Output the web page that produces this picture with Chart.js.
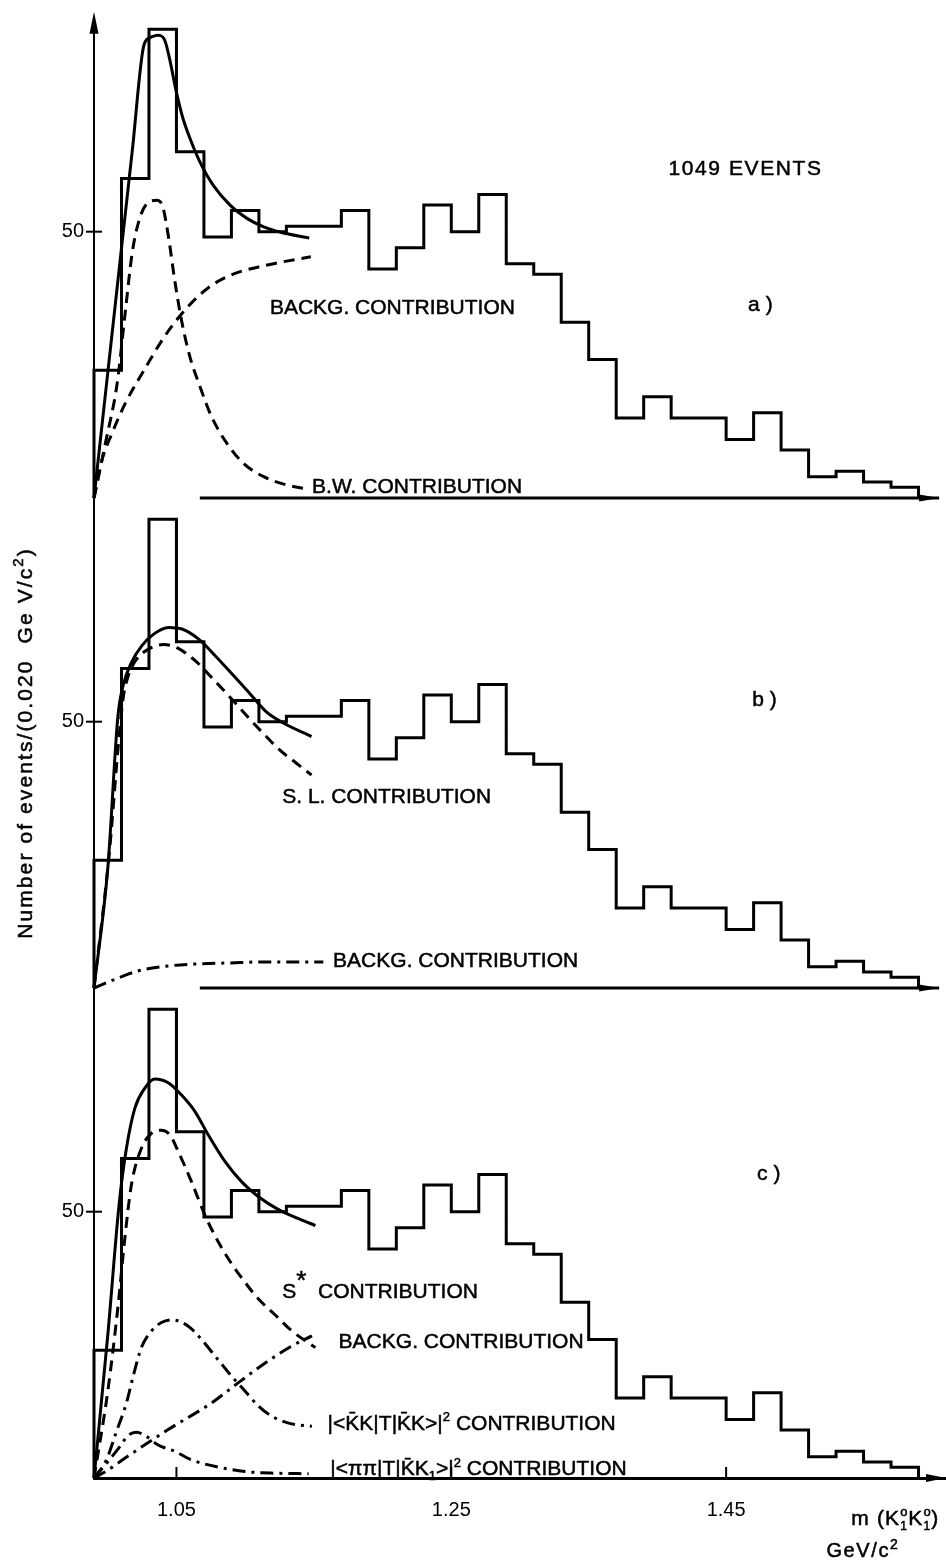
<!DOCTYPE html>
<html lang="en">
<head>
<meta charset="UTF-8" />
<title>m(K1 K1) spectrum</title>
<script src="https://cdn.jsdelivr.net/npm/chart.js@4.4.0/dist/chart.umd.min.js"></script>
<style>
  html, body { margin: 0; padding: 0; background: #fff; }
  canvas { display: block; }
</style>
</head>
<body>
<canvas id="spectrum" width="946" height="1561"></canvas>
<script>
// histogram, 0.020 GeV/c2 bins from 0.99
const binStart = 0.99;
const binWidth = 0.02;
const counts = [24, 60, 88, 65, 49, 54, 50, 51, 51, 54, 43, 47, 55, 50, 57, 44, 42, 33, 26, 15, 19, 15, 15, 11, 16, 9, 4, 5, 3, 2];

const xTicks = [1.05, 1.25, 1.45];
const yTicks = [50];

// panel a) fit, Breit-Wigner and background
const aFitM = [0.99, 1.0082, 1.0179, 1.0265, 1.0314, 1.0363, 1.0412, 1.0449, 1.0498, 1.0547, 1.0608, 1.0682, 1.0768, 1.089, 1.1013, 1.1135, 1.1258, 1.1466];
const aFitV = [0, 42.7, 65.3, 85.2, 86.5, 86.9, 86.1, 82.6, 76.4, 71.3, 66.9, 62.5, 58.7, 55, 52.5, 50.9, 49.9, 48.8];
const aBwM = [0.99, 0.9983, 1.0069, 1.013, 1.0179, 1.024, 1.0302, 1.0356, 1.04, 1.0444, 1.0486, 1.0535, 1.0596, 1.067, 1.0755, 1.0866, 1.0988, 1.1135, 1.1294, 1.1466];
const aBwV = [0, 10.3, 21.6, 35.5, 46.2, 53.1, 55.6, 55.9, 54.7, 48.7, 41.1, 33.6, 26.7, 21, 15.3, 10.3, 6.5, 4, 2.5, 1.6];
const aBgM = [0.99, 0.9959, 1.0032, 1.013, 1.0253, 1.04, 1.0535, 1.0718, 1.089, 1.1135, 1.1478];
const aBgV = [0, 7.2, 12.2, 17.9, 23.5, 29.8, 34.5, 39.2, 41.8, 43.6, 45.3];

// panel b) fit, scattering length and background
const bFitM = [0.99, 1.0001, 1.0074, 1.0111, 1.0172, 1.0246, 1.0332, 1.0442, 1.054, 1.0662, 1.0785, 1.0907, 1.103, 1.1152, 1.1275, 1.1483];
const bFitV = [0, 22.7, 51, 56.7, 61.1, 64.2, 66.4, 67.7, 67.4, 65.5, 62.3, 58.9, 55.4, 51.9, 49.8, 47.2];
const bSlM = [0.99, 1.0013, 1.0074, 1.0111, 1.0148, 1.0209, 1.0295, 1.0405, 1.0503, 1.0638, 1.076, 1.0883, 1.1005, 1.1128, 1.1251, 1.1373, 1.1483];
const bSlV = [0, 25.8, 44.7, 54.2, 58.5, 61.7, 63.6, 64.5, 63.9, 61.4, 58.2, 54.8, 51.3, 47.9, 44.7, 42.2, 40];
const bBgM = [0.99, 1.0049, 1.0221, 1.0393, 1.0638, 1.0883, 1.1128, 1.1373, 1.1569];
const bBgV = [0, 1.6, 3.2, 4, 4.5, 4.7, 4.9, 4.9, 4.9];

// panel c) fit, S*, background, KK and pipi terms
const cFitM = [0.99, 1.0002, 1.0082, 1.0136, 1.0197, 1.027, 1.0343, 1.044, 1.0537, 1.0635, 1.0732, 1.0854, 1.0975, 1.1097, 1.1243, 1.1389, 1.1511];
const cFitV = [0, 27.3, 51.2, 61.9, 69.4, 73.2, 74.9, 74.2, 71.9, 68.8, 64.4, 59.4, 55.6, 52.8, 50.4, 48.7, 47.4];
const cSM = [0.99, 1.0002, 1.0075, 1.0124, 1.0172, 1.0245, 1.0318, 1.0391, 1.0453, 1.0513, 1.061, 1.0708, 1.0805, 1.0902, 1.1, 1.1097, 1.1219, 1.134, 1.1511];
const cSV = [0, 16.6, 32.3, 44.9, 55, 61.9, 64.7, 65.3, 64.4, 61.3, 55.6, 49.3, 44.3, 40.2, 36.7, 33.6, 30.6, 27.6, 24.5];
const cBgM = [0.99, 1.0002, 1.0124, 1.044, 1.0756, 1.0951, 1.1146, 1.134, 1.1486];
const cBgV = [0, 1.5, 3.7, 9.1, 14.1, 17.9, 21.6, 24.8, 26.7];
const cKkM = [0.99, 0.999, 1.0063, 1.0136, 1.0185, 1.0245, 1.0318, 1.0391, 1.0464, 1.0586, 1.0683, 1.0781, 1.0902, 1.1, 1.1097, 1.1194, 1.1316, 1.1486];
const cKkV = [0, 3.4, 8.7, 14.1, 19.1, 24.5, 27.6, 29.2, 29.7, 28.5, 26, 22.9, 19.1, 16.3, 13.5, 11.6, 10.3, 9.7];
const cPiM = [0.99, 1.0002, 1.0088, 1.0148, 1.0209, 1.0282, 1.0367, 1.0489, 1.061, 1.0854, 1.1, 1.1219, 1.1462];
const cPiV = [0, 3.1, 5.9, 8, 8.6, 7.8, 6.2, 5, 3.4, 1.8, 1.2, 0.9, 0.8];

// zero lines of the two upper panels
const baseM = [1.067, 1.605];
const baseV = [0, 0];

const FONT = '"Liberation Sans", Arial, sans-serif';

function curve(ms, vs) {
  return ms.map((m, i) => ({ x: m, y: vs[i] }));
}

function histogram() {
  const pts = [{ x: binStart, y: 0 }];
  counts.forEach((n, i) => pts.push({ x: binStart + (i + 1) * binWidth, y: n }));
  pts.push({ x: binStart + counts.length * binWidth, y: 0 });
  return pts;
}

const SOLID = [];
const DASH = [11, 7];
const DASHDOT = [13, 6, 3, 6];

function line(data, axis, dash) {
  return {
    data: data,
    yAxisID: axis,
    borderColor: '#000',
    borderWidth: 3,
    borderDash: dash,
    cubicInterpolationMode: 'monotone',
    pointRadius: 0,
    clip: false,
    fill: false
  };
}

function histo(axis) {
  return {
    data: histogram(),
    yAxisID: axis,
    borderColor: '#000',
    borderWidth: 3,
    stepped: 'after',
    pointRadius: 0,
    clip: false,
    fill: false
  };
}

// text written on the plot, placed in data units of each panel
const notes = [
  { axis: 'yA', m: 1.408, v: 62.0, spacing: 1.6, parts: [{ t: '1049 EVENTS' }] },
  { axis: 'yA', m: 1.466, v: 36.6, parts: [{ t: 'a )' }] },
  { axis: 'yA', m: 1.118, v: 36.0, parts: [{ t: 'BACKG. CONTRIBUTION' }] },
  { axis: 'yA', m: 1.1487, v: 2.3, parts: [{ t: 'B.W. CONTRIBUTION' }] },
  { axis: 'yB', m: 1.469, v: 54.4, parts: [{ t: 'b )' }] },
  { axis: 'yB', m: 1.127, v: 36.2, parts: [{ t: 'S. L. CONTRIBUTION' }] },
  { axis: 'yB', m: 1.164, v: 5.3, parts: [{ t: 'BACKG. CONTRIBUTION' }] },
  { axis: 'yC', m: 1.4725, v: 57.3, parts: [{ t: 'c )' }] },
  { axis: 'yC', m: 1.127, v: 35.2, parts: [{ t: 'S' }, { t: '*', sup: true, scale: 1.25 }, { t: '  CONTRIBUTION' }] },
  { axis: 'yC', m: 1.168, v: 25.9, parts: [{ t: 'BACKG. CONTRIBUTION' }] },
  { axis: 'yC', m: 1.160, v: 10.5, parts: [{ t: '|<K\u0304K|T|K\u0304K>|' }, { t: '2', sup: true }, { t: ' CONTRIBUTION' }] },
  { axis: 'yC', m: 1.162, v: 1.9, parts: [{ t: '|<\u03c0\u03c0|T|K\u0304K' }, { t: '1', sub: true }, { t: '>|' }, { t: '2', sup: true }, { t: ' CONTRIBUTION' }] }
];

function drawParts(ctx, x, y, parts, size, spacing, dry) {
  let cx = x;
  parts.forEach(p => {
    const s = (p.sup || p.sub) ? Math.round(size * (p.scale || 0.62)) : size;
    ctx.font = s + 'px ' + FONT;
    ctx.letterSpacing = (spacing || 0) + 'px';
    const dy = p.sup ? -size * 0.42 : p.sub ? size * 0.22 : 0;
    if (!dry) {
      ctx.fillText(p.t, cx, y + dy);
      ctx.strokeText(p.t, cx, y + dy);
    }
    if (!p.hold) cx += ctx.measureText(p.t).width;
  });
  ctx.letterSpacing = '0px';
  return cx - x;
}

function arrowHead(ctx, x, y, dir, len, half) {
  ctx.beginPath();
  if (dir === 'up') {
    ctx.moveTo(x, y);
    ctx.lineTo(x - half, y + len);
    ctx.lineTo(x + half, y + len);
  } else {
    ctx.moveTo(x, y);
    ctx.lineTo(x - len, y - half);
    ctx.lineTo(x - len, y + half);
  }
  ctx.closePath();
  ctx.fill();
}

const decorations = {
  id: 'decorations',
  afterDraw(chart) {
    const { ctx, chartArea, scales } = chart;
    const x = scales.x;
    ctx.save();
    ctx.fillStyle = '#000';
    ctx.strokeStyle = '#000';
    ctx.textBaseline = 'alphabetic';
    ctx.textAlign = 'left';

    // y axis running through all three panels, with arrow
    const tipY = scales.yA.getPixelForValue(91.3);
    ctx.lineWidth = 2;
    ctx.beginPath();
    ctx.moveTo(chartArea.left, chartArea.bottom);
    ctx.lineTo(chartArea.left, tipY + 10);
    ctx.stroke();
    arrowHead(ctx, chartArea.left, tipY, 'up', 22, 4.5);

    // y ticks crossing the axis
    ['yA', 'yB', 'yC'].forEach(id => {
      yTicks.forEach(v => {
        const py = scales[id].getPixelForValue(v);
        ctx.beginPath();
        ctx.moveTo(chartArea.left - 8, py);
        ctx.lineTo(chartArea.left + 8, py);
        ctx.stroke();
      });
    });

    // x ticks pointing up into the lower panel
    xTicks.forEach(v => {
      const px = x.getPixelForValue(v);
      ctx.beginPath();
      ctx.moveTo(px, chartArea.bottom);
      ctx.lineTo(px, chartArea.bottom - 11);
      ctx.stroke();
    });

    // arrows on the zero lines
    arrowHead(ctx, x.getPixelForValue(baseM[1]), scales.yA.getPixelForValue(0), 'right', 20, 3.5);
    arrowHead(ctx, x.getPixelForValue(baseM[1]), scales.yB.getPixelForValue(0), 'right', 20, 3.5);
    arrowHead(ctx, chartArea.right, chartArea.bottom, 'right', 20, 4);

    // notes, with a thin outline so the print looks a little heavier
    ctx.lineWidth = 0.5;
    notes.forEach(n => {
      const size = 21;
      const px = x.getPixelForValue(n.m);
      const py = scales[n.axis].getPixelForValue(n.v) + size * 0.36;
      drawParts(ctx, px, py, n.parts, size, n.spacing);
    });

    // x axis title
    const t1 = [
      { t: 'm (K' }, { t: 'o', sup: true, scale: 0.6, hold: true }, { t: '1', sub: true, scale: 0.55 },
      { t: 'K' }, { t: 'o', sup: true, scale: 0.6, hold: true }, { t: '1', sub: true, scale: 0.55 }, { t: ')' }
    ];
    drawParts(ctx, x.getPixelForValue(1.541), chartArea.bottom + 47, t1, 21, 1.2);
    drawParts(ctx, x.getPixelForValue(1.523), chartArea.bottom + 79, [{ t: 'GeV/c' }, { t: '2', sup: true, scale: 0.7 }], 20, 1.6);

    // y axis title, rotated
    const yTitle = [{ t: 'Number of events/(0.020  Ge V/c' }, { t: '2', sup: true, scale: 0.7 }, { t: ')' }];
    const yb = scales.yB;
    const w = drawParts(ctx, 0, 0, yTitle, 21, 2.1, true);
    ctx.translate(chartArea.left - 62, (yb.top + yb.bottom) / 2);
    ctx.rotate(-Math.PI / 2);
    drawParts(ctx, -w / 2, 0, yTitle, 21, 2.1);
    ctx.restore();
  }
};

function yScale(weight) {
  return {
    type: 'linear',
    position: 'left',
    stack: 'panels',
    stackWeight: 1,
    weight: weight,
    min: 0,
    max: 92,
    grid: { display: false, drawTicks: false },
    border: { display: false },
    ticks: { color: '#000', padding: 10, font: { size: 20, family: FONT } },
    afterBuildTicks: s => { s.ticks = yTicks.map(v => ({ value: v })); },
    afterFit: s => { s.width = 94; s.paddingTop = 0; s.paddingBottom = 0; }
  };
}

new Chart(document.getElementById('spectrum'), {
  type: 'line',
  data: {
    datasets: [
      histo('yA'),
      line(curve(aFitM, aFitV), 'yA', SOLID),
      line(curve(aBwM, aBwV), 'yA', DASH),
      line(curve(aBgM, aBgV), 'yA', DASH),
      line(curve(baseM, baseV), 'yA', SOLID),
      histo('yB'),
      line(curve(bFitM, bFitV), 'yB', SOLID),
      line(curve(bSlM, bSlV), 'yB', DASH),
      line(curve(bBgM, bBgV), 'yB', DASHDOT),
      line(curve(baseM, baseV), 'yB', SOLID),
      histo('yC'),
      line(curve(cFitM, cFitV), 'yC', SOLID),
      line(curve(cSM, cSV), 'yC', DASH),
      line(curve(cBgM, cBgV), 'yC', DASHDOT),
      line(curve(cKkM, cKkV), 'yC', DASHDOT),
      line(curve(cPiM, cPiV), 'yC', DASHDOT)
    ]
  },
  options: {
    responsive: false,
    animation: false,
    devicePixelRatio: 1,
    layout: { padding: { top: 8, right: 0, bottom: 0, left: 0 } },
    plugins: { legend: { display: false }, tooltip: { enabled: false } },
    scales: {
      x: {
        type: 'linear',
        position: 'bottom',
        min: 0.99,
        max: 1.61,
        grid: { display: false, drawTicks: false },
        border: { display: true, width: 3, color: '#000' },
        ticks: {
          color: '#000',
          padding: 20,
          maxRotation: 0,
          autoSkip: false,
          font: { size: 20, family: FONT },
          callback: v => v.toFixed(2)
        },
        afterBuildTicks: s => { s.ticks = xTicks.map(v => ({ value: v })); },
        afterFit: s => { s.height = 83; s.paddingLeft = 0; s.paddingRight = 0; }
      },
      yA: yScale(3),
      yB: yScale(2),
      yC: yScale(1)
    }
  },
  plugins: [decorations]
});
</script>
</body>
</html>
